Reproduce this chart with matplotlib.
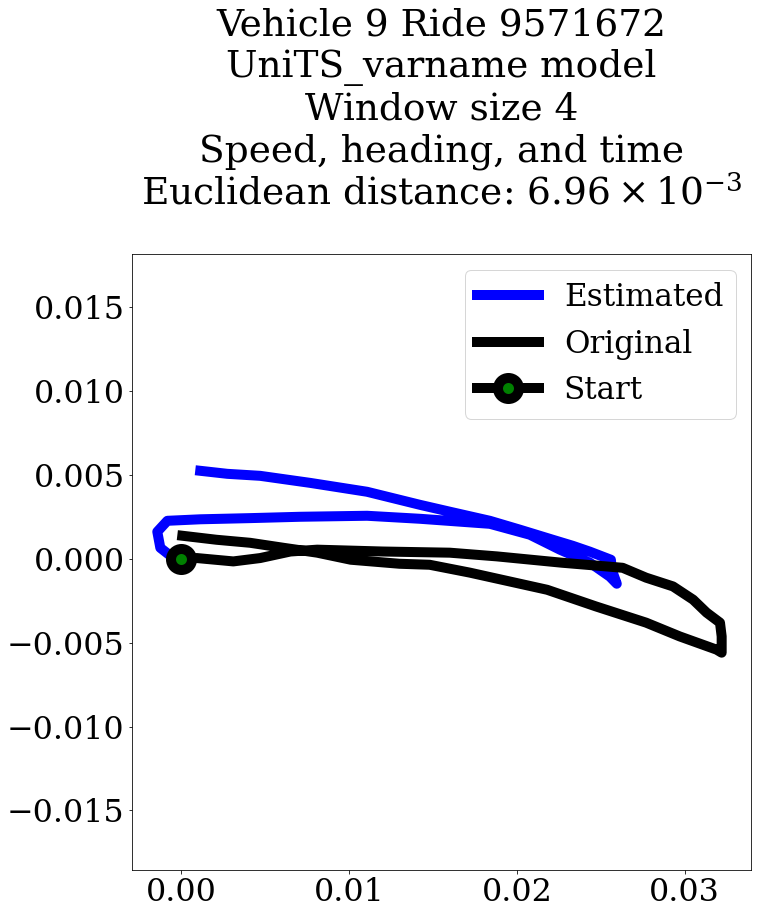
import matplotlib
matplotlib.use("Agg")
import matplotlib.pyplot as plt

plt.rcParams["font.family"] = "serif"
plt.rcParams["font.serif"] = ["DejaVu Serif"]
plt.rcParams["mathtext.fontset"] = "dejavuserif"
plt.rcParams["font.size"] = 31.7

# trajectory readings (relative coordinates)
orig_x = [0.0, 0.00093, 0.0031, 0.0047, 0.0065, 0.0081, 0.0120, 0.0160, 0.0188,
          0.0227, 0.0263, 0.0277, 0.0293, 0.0305, 0.0313, 0.0321, 0.0322, 0.0322,
          0.0319, 0.0297, 0.0277, 0.0247, 0.0218, 0.0172, 0.0148, 0.0130, 0.0101,
          0.0081, 0.0061, 0.0041, 0.0021, 0.00006]
orig_y = [0.0, 0.00004, -0.00016, 0.00004, 0.00043, 0.00054, 0.00043, 0.00036, 0.00014,
          -0.00024, -0.00054, -0.00113, -0.00165, -0.00244, -0.00321, -0.00381, -0.00463, -0.0056,
          -0.00542, -0.00463, -0.00381, -0.00284, -0.00185, -0.00083, -0.00036, -0.0003, -0.00006,
          0.00036, 0.00065, 0.00095, 0.00113, 0.00137]

est_x = [0.0, -0.00065, -0.00125, -0.00143, -0.00083, 0.00113, 0.00411, 0.00708, 0.01107,
         0.01423, 0.01839, 0.02077, 0.02256, 0.02435, 0.02554, 0.02595, 0.02565, 0.02560,
         0.02435, 0.02333, 0.02214, 0.02018, 0.01839, 0.01601, 0.01423, 0.01107, 0.00768,
         0.00470, 0.00274, 0.00113]
est_y = [0.0, 0.00018, 0.00065, 0.00161, 0.00226, 0.00235, 0.00242, 0.0025, 0.00256,
         0.00238, 0.00208, 0.00143, 0.00054, -0.00024, -0.00107, -0.00149, -0.00065, -0.00006,
         0.00042, 0.00077, 0.00113, 0.00173, 0.00226, 0.0028, 0.00321, 0.00399, 0.00452,
         0.00494, 0.00506, 0.00524]

start_x = [0.0]
start_y = [0.0]

title = ("Vehicle 9 Ride 9571672\nUniTS_varname model\nWindow size 4\n"
         "Speed, heading, and time\nEuclidean distance: $6.96\\times 10^{-3}$")

fig = plt.figure(figsize=(759 / 72, 917 / 72), dpi=72)
ax = fig.add_axes([0.1735, 0.05125, 0.8160, 0.6714])

ax.plot(est_x, est_y, color="blue", linewidth=10, label="Estimated")
ax.plot(orig_x, orig_y, color="black", linewidth=10, label="Original")
ax.plot(start_x, start_y, color="black", linewidth=10, marker="o",
        markersize=21, markeredgewidth=10, markerfacecolor="green",
        markeredgecolor="black", label="Start")

ax.set_xlim(-0.002956, 0.03395)
ax.set_ylim(-0.01855, 0.01814)
ax.set_xticks([0.0, 0.01, 0.02, 0.03])
ax.set_yticks([-0.015, -0.010, -0.005, 0.0, 0.005, 0.010, 0.015])
ax.set_title(title, fontsize=37.5, pad=50)
ax.legend(loc="upper right", fontsize=31)

fig.savefig("out.png", dpi=72)
plt.close(fig)
